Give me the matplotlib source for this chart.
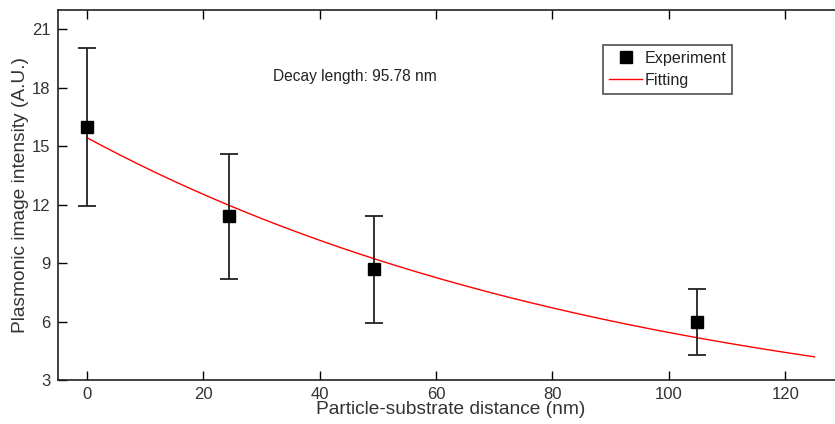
import numpy as np
import matplotlib
matplotlib.use("Agg")
import matplotlib.pyplot as plt
from matplotlib.lines import Line2D

plt.rcParams['font.family'] = ['Liberation Sans', 'DejaVu Sans']

distance = [0.0, 24.5, 49.3, 104.8]
intensity = [16.0, 11.4, 8.68, 5.96]
intensity_err = [4.05, 3.21, 2.75, 1.69]

# exponential fit shown on the chart
fit_amplitude = 15.45
decay_length = 95.78
fit_range = (0.0, 125.0)

x_ticks = [0, 20, 40, 60, 80, 100, 120]
y_ticks = [3, 6, 9, 12, 15, 18, 21]

fig = plt.figure(figsize=(8.35, 4.24), dpi=100)
ax = fig.add_axes([0.0689, 0.1038, 0.9414, 0.8726])

fit_x = np.linspace(fit_range[0], fit_range[1], 200)
fit_y = fit_amplitude * np.exp(-fit_x / decay_length)

ax.errorbar(distance, intensity, yerr=intensity_err, fmt='s', color='black',
            ecolor='#222222', elinewidth=1.3, capsize=6.5, capthick=1.3,
            markersize=9, zorder=3)
ax.plot(fit_x, fit_y, color='red', linewidth=1.0, zorder=2)

ax.text(32, 18.58, 'Decay length: 95.78 nm', fontsize=11.2, color='#222222',
        va='center', ha='left')

ax.set_xlim(-5, 130)
ax.set_ylim(3, 22)
ax.set_xticks(x_ticks)
ax.set_yticks(y_ticks)
ax.tick_params(direction='in', top=True, right=True, length=6.5, width=1,
               labelsize=12, labelcolor='#333333', pad=5)
for sp in ax.spines.values():
    sp.set_linewidth(1.2)
    sp.set_color('#222222')

ax.set_xlabel('Particle-substrate distance (nm)', fontsize=13.8, color='#333333',
              labelpad=-1)
ax.set_ylabel('Plasmonic image intensity (A.U.)', fontsize=13.8, color='#333333',
              labelpad=2)

handles = [Line2D([], [], linestyle='none', marker='s', color='black', markersize=8),
           Line2D([], [], color='red', linewidth=1.0)]
leg = ax.legend(handles, ['Experiment', 'Fitting'], loc='upper left',
                bbox_to_anchor=(603 / 835, 1 - 45 / 424),
                bbox_transform=fig.transFigure, fontsize=11.6, frameon=True,
                fancybox=False, borderpad=0.35, handlelength=2.1,
                handletextpad=0.15, labelspacing=0.45, borderaxespad=0)
leg.get_frame().set_edgecolor('#222222')
leg.get_frame().set_linewidth(1.2)
for t in leg.get_texts():
    t.set_color('#222222')

fig.savefig('out.png', dpi=100)
